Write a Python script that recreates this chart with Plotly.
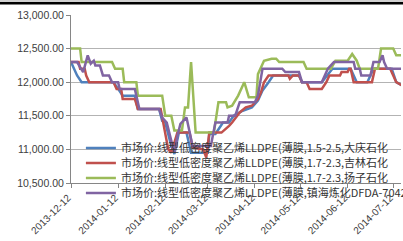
import plotly.graph_objects as go

# ---- data ----
series_names = [
    "市场价:线型低密度聚乙烯LLDPE(薄膜,1.5-2.5,大庆石化",
    "市场价:线型低密度聚乙烯LLDPE(薄膜,1.7-2.3,吉林石化",
    "市场价:线型低密度聚乙烯LLDPE(薄膜,1.7-2.3,扬子石化",
    "市场价:线型低密度聚乙烯LLDPE(薄膜,镇海炼化DFDA-7042)",
]
series_colors = ["#4F81BD", "#C0504D", "#9BBB59", "#8064A2"]

blue_dates = ["2013-12-12", "2013-12-16", "2013-12-19", "2014-01-09", "2014-01-12", "2014-01-15",
              "2014-01-23", "2014-01-25", "2014-02-08", "2014-02-10", "2014-02-12", "2014-02-16",
              "2014-02-18", "2014-02-21", "2014-02-26", "2014-03-01", "2014-03-12", "2014-03-13",
              "2014-03-17", "2014-03-22", "2014-03-26", "2014-03-29", "2014-04-04", "2014-04-10",
              "2014-04-14", "2014-04-17", "2014-04-21", "2014-04-24", "2014-05-11", "2014-05-13",
              "2014-05-26", "2014-06-02", "2014-06-14", "2014-06-18", "2014-06-25", "2014-06-29",
              "2014-07-11", "2014-07-14", "2014-07-18"]
blue_values = [12300, 12100, 12000, 12000, 11900, 11800,
               11800, 11600, 11600, 11425, 11400, 11050,
               10930, 11250, 11250, 10950, 10950, 11230,
               11230, 11400, 11400, 11500, 11575, 11625,
               11725, 11875, 12000, 12100, 12100, 12000,
               12000, 12200, 12200, 12000, 12000, 12200,
               12200, 12000, 11950]

red_dates = ["2013-12-12", "2013-12-17", "2013-12-18", "2013-12-21", "2013-12-22", "2013-12-24",
             "2014-01-09", "2014-01-11", "2014-01-14", "2014-01-15", "2014-01-23", "2014-01-25",
             "2014-02-09", "2014-02-10", "2014-02-14", "2014-02-16", "2014-02-20", "2014-02-28",
             "2014-03-02", "2014-03-09", "2014-03-11", "2014-03-13", "2014-03-21", "2014-03-26",
             "2014-03-28", "2014-04-02", "2014-04-06", "2014-04-10", "2014-04-14", "2014-04-16",
             "2014-04-18", "2014-04-21", "2014-05-04", "2014-05-05", "2014-05-07", "2014-05-11",
             "2014-05-13", "2014-05-16", "2014-05-18", "2014-05-26", "2014-05-29", "2014-05-31",
             "2014-06-07", "2014-06-08", "2014-06-12", "2014-06-13", "2014-06-14", "2014-06-16",
             "2014-06-28", "2014-06-30", "2014-07-10", "2014-07-14", "2014-07-18"]
red_values = [12300, 12300, 12200, 12200, 12100, 12000,
              12000, 11900, 11900, 11750, 11750, 11600,
              11600, 11475, 11000, 10950, 11250, 11250,
              11030, 11000, 10880, 11250, 11250, 11350,
              11400, 11550, 11625, 11650, 11750, 11850,
              12000, 12100, 12100, 12050, 12100, 12100,
              12000, 12000, 11900, 11900, 12000, 12100,
              12100, 12150, 12150, 12200, 12200, 12000,
              12000, 12200, 12200, 12000, 11950]

green_dates = ["2013-12-12", "2013-12-18", "2013-12-19", "2014-01-08", "2014-01-10", "2014-01-15",
               "2014-01-16", "2014-01-24", "2014-01-25", "2014-02-10", "2014-02-12", "2014-02-16",
               "2014-02-18", "2014-02-23", "2014-02-25", "2014-02-27", "2014-03-01", "2014-03-03",
               "2014-03-04", "2014-03-16", "2014-03-19", "2014-03-24", "2014-03-25", "2014-03-28",
               "2014-04-01", "2014-04-05", "2014-04-08", "2014-04-13", "2014-04-14", "2014-04-18",
               "2014-04-23", "2014-04-26", "2014-04-28", "2014-05-14", "2014-05-16", "2014-06-01",
               "2014-06-04", "2014-06-12", "2014-06-15", "2014-06-18", "2014-06-20", "2014-07-02",
               "2014-07-04", "2014-07-12", "2014-07-14", "2014-07-18"]
green_values = [12500, 12500, 12300, 12300, 12200, 12200,
                12000, 12000, 11800, 11800, 11500, 11500,
                11280, 11280, 11625, 11625, 12300, 11625,
                11250, 11250, 11700, 11700, 11625, 11650,
                11800, 12000, 11775, 11775, 12120, 12320,
                12350, 12350, 12300, 12300, 12200, 12200,
                12320, 12320, 12420, 12320, 12200, 12200,
                12500, 12500, 12400, 12400]

purple_dates = ["2013-12-12", "2013-12-16", "2013-12-20", "2013-12-23", "2013-12-25", "2013-12-27",
                "2013-12-28", "2013-12-31", "2014-01-02", "2014-01-06", "2014-01-08", "2014-01-12",
                "2014-01-13", "2014-01-23", "2014-01-26", "2014-02-08", "2014-02-10", "2014-02-13",
                "2014-02-18", "2014-02-20", "2014-02-22", "2014-02-26", "2014-03-02", "2014-03-14",
                "2014-03-17", "2014-03-25", "2014-03-26", "2014-03-30", "2014-04-02", "2014-04-12",
                "2014-04-14", "2014-04-17", "2014-04-30", "2014-05-02", "2014-05-11", "2014-05-13",
                "2014-05-26", "2014-05-30", "2014-06-03", "2014-06-16", "2014-06-17", "2014-06-20",
                "2014-06-21", "2014-06-27", "2014-06-29", "2014-07-03", "2014-07-05", "2014-07-06",
                "2014-07-08", "2014-07-18"]
purple_values = [12300, 12300, 12150, 12400, 12275, 12320,
                 12250, 12250, 12100, 12100, 12000, 12000,
                 11900, 11900, 11600, 11600, 11475, 11400,
                 10950, 11200, 11380, 11475, 11050, 11050,
                 11400, 11400, 11500, 11500, 11700, 11700,
                 11800, 12200, 12200, 12150, 12150, 12000,
                 12000, 12200, 12300, 12300, 12200, 12200,
                 12100, 12100, 12300, 12300, 12400, 12300,
                 12200, 12200]

x_tick_labels = ["2013-12-12", "2014-01-12", "2014-02-12", "2014-03-12",
                 "2014-04-12", "2014-05-12", "2014-06-12", "2014-07-12"]
y_tick_values = [10500, 11000, 11500, 12000, 12500, 13000]

# ---- figure ----
all_dates = [blue_dates, red_dates, green_dates, purple_dates]
all_values = [blue_values, red_values, green_values, purple_values]
legend_ids = ["legend", "legend2", "legend3", "legend4"]
legend_rows_y = [0.208, 0.119, 0.030, -0.059]

fig = go.Figure()
for name, color, xs, ys, lid in zip(series_names, series_colors, all_dates, all_values, legend_ids):
    fig.add_trace(go.Scatter(x=xs, y=ys, mode="lines", name=name, legend=lid,
                             line=dict(color=color, width=2.5)))

leg_common = dict(x=0.03, xanchor="left", yanchor="middle", bgcolor="rgba(0,0,0,0)",
                  borderwidth=0, itemwidth=30,
                  font=dict(family="Noto Sans CJK SC", size=11, color="#333333"))
legends = {}
for lid, ly in zip(legend_ids, legend_rows_y):
    legends[lid] = dict(leg_common, y=ly)

fig.update_layout(
    width=403, height=241,
    margin=dict(l=71, r=2, t=15, b=58, autoexpand=False),
    paper_bgcolor="white", plot_bgcolor="white",
    showlegend=True,
    font=dict(family="Liberation Sans", size=10, color="#404040"),
    xaxis=dict(type="date", range=["2013-12-12", "2014-07-17 03:00"],
               tickvals=x_tick_labels, ticktext=x_tick_labels, tickangle=-45,
               showgrid=False, showline=True, linecolor="#868686", linewidth=1,
               ticks="outside", ticklen=4, tickcolor="#868686", ticklabelshift=-3,
               tickfont=dict(family="Liberation Sans", size=10, color="#404040")),
    yaxis=dict(range=[10500, 13000], tickvals=y_tick_values, tickformat=",.2f",
               showgrid=True, gridcolor="#b3b3b3", gridwidth=1,
               showline=True, linecolor="#868686", linewidth=1,
               ticks="outside", ticklen=4, tickcolor="#868686", zeroline=False,
               tickfont=dict(family="Liberation Sans", size=10.5, color="#404040")),
    shapes=[
        dict(type="rect", xref="paper", yref="paper", x0=-0.3, x1=1.1,
             y0=1 + 10.5 / 168, y1=1 + 13.0 / 168, fillcolor="#000000", line=dict(width=0)),
        dict(type="rect", xref="paper", yref="paper", x0=-0.3, x1=1.1,
             y0=1 + 13.0 / 168, y1=1 + 15.5 / 168, fillcolor="#d0d0d0", line=dict(width=0)),
    ],
    **legends,
)

fig.write_html("out.html", config={"displayModeBar": False},
               post_script="document.body.style.margin='0';document.body.style.overflow='hidden';")
